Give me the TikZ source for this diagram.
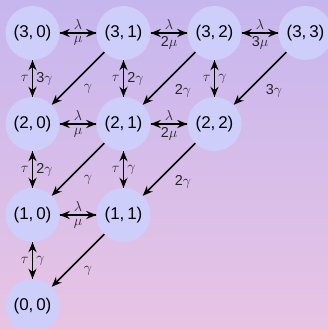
\documentclass[tikz,border=0pt]{standalone}
\usepackage{fontspec}
\setsansfont{Liberation Sans}
\usetikzlibrary{arrows.meta}
\definecolor{bgtop}{RGB}{198,182,238}
\definecolor{bgbottom}{RGB}{232,196,228}
\definecolor{statefill}{RGB}{206,206,250}
\begin{document}
\begin{tikzpicture}[x=1pt,y=-1pt,
  state/.style={circle,fill=statefill,minimum size=54pt,inner sep=0pt,font=\sffamily\fontsize{17}{20}\selectfont},
  rate/.style={-{Stealth[length=10pt,width=8pt]},line width=1.6pt},
  lbl/.style={font=\sffamily\fontsize{14.4}{17}\selectfont,text=black!85,inner sep=1pt}]
\path[use as bounding box] (0,0) rectangle (328,329);
\clip (0,0) rectangle (328,329);
\shade[top color=bgtop,bottom color=bgbottom] (0,0) rectangle (328,329);
% states
\node[state] (s30) at (32.5,33) {(3,\,0)};
\node[state] (s31) at (123.5,33) {(3,\,1)};
\node[state] (s32) at (214.5,33) {(3,\,2)};
\node[state] (s33) at (305.5,33) {(3,\,3)};
\node[state] (s20) at (32.5,124) {(2,\,0)};
\node[state] (s21) at (123.5,124) {(2,\,1)};
\node[state] (s22) at (214.5,124) {(2,\,2)};
\node[state] (s10) at (32.5,215) {(1,\,0)};
\node[state] (s11) at (123.5,215) {(1,\,1)};
\node[state] (s00) at (32.5,306) {(0,\,0)};
% arrivals and services
\draw[rate] (s30) -- (s31) node[lbl,midway,above=2pt] {$\lambda$};
\draw[rate] (s31) -- (s30) node[lbl,midway,below=2pt] {$\mu$};
\draw[rate] (s31) -- (s32) node[lbl,midway,above=2pt] {$\lambda$};
\draw[rate] (s32) -- (s31) node[lbl,midway,below=2pt] {2$\mu$};
\draw[rate] (s32) -- (s33) node[lbl,midway,above=2pt] {$\lambda$};
\draw[rate] (s33) -- (s32) node[lbl,midway,below=2pt] {3$\mu$};
\draw[rate] (s20) -- (s21) node[lbl,midway,above=2pt] {$\lambda$};
\draw[rate] (s21) -- (s20) node[lbl,midway,below=2pt] {$\mu$};
\draw[rate] (s21) -- (s22) node[lbl,midway,above=2pt] {$\lambda$};
\draw[rate] (s22) -- (s21) node[lbl,midway,below=2pt] {2$\mu$};
\draw[rate] (s10) -- (s11) node[lbl,midway,above=2pt] {$\lambda$};
\draw[rate] (s11) -- (s10) node[lbl,midway,below=2pt] {$\mu$};
% vertical moves
\draw[rate] (s20) -- (s30) node[lbl,midway,left=2pt] {$\tau$};
\draw[rate] (s30) -- (s20) node[lbl,midway,right=2pt] {3$\gamma$};
\draw[rate] (s21) -- (s31) node[lbl,midway,left=2pt] {$\tau$};
\draw[rate] (s31) -- (s21) node[lbl,midway,right=2pt] {2$\gamma$};
\draw[rate] (s22) -- (s32) node[lbl,midway,left=2pt] {$\tau$};
\draw[rate] (s32) -- (s22) node[lbl,midway,right=2pt] {$\gamma$};
\draw[rate] (s10) -- (s20) node[lbl,midway,left=2pt] {$\tau$};
\draw[rate] (s20) -- (s10) node[lbl,midway,right=2pt] {2$\gamma$};
\draw[rate] (s11) -- (s21) node[lbl,midway,left=2pt] {$\tau$};
\draw[rate] (s21) -- (s11) node[lbl,midway,right=2pt] {$\gamma$};
\draw[rate] (s00) -- (s10) node[lbl,midway,left=2pt] {$\tau$};
\draw[rate] (s10) -- (s00) node[lbl,midway,right=2pt] {$\gamma$};
% diagonal moves
\draw[rate] (s31) -- (s20) node[lbl,midway,below right=4pt] {$\gamma$};
\draw[rate] (s32) -- (s21) node[lbl,midway,below right=4pt] {2$\gamma$};
\draw[rate] (s33) -- (s22) node[lbl,midway,below right=4pt] {3$\gamma$};
\draw[rate] (s21) -- (s10) node[lbl,midway,below right=4pt] {$\gamma$};
\draw[rate] (s22) -- (s11) node[lbl,midway,below right=4pt] {2$\gamma$};
\draw[rate] (s11) -- (s00) node[lbl,midway,below right=4pt] {$\gamma$};
\end{tikzpicture}
\end{document}
